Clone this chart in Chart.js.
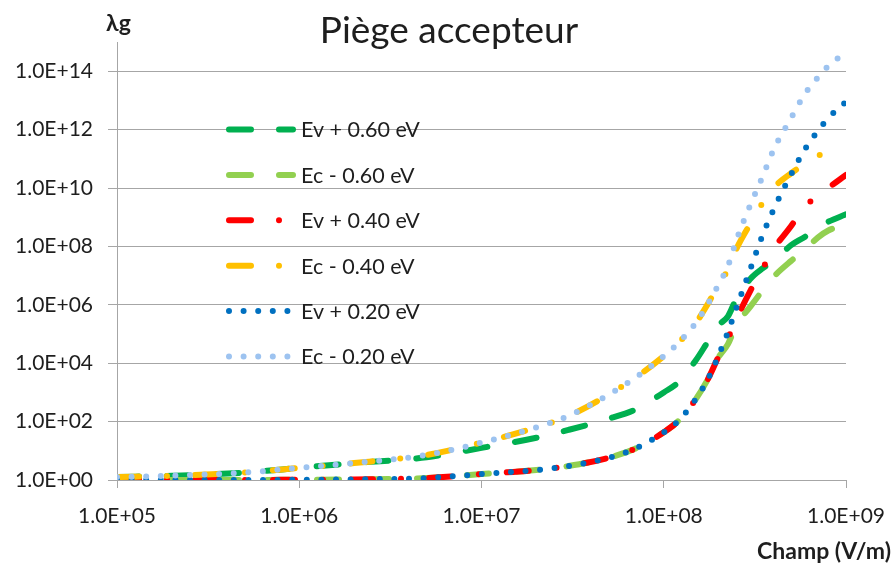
<!DOCTYPE html>
<html>
<head>
<meta charset="utf-8">
<script src="https://cdn.jsdelivr.net/npm/chart.js@4.4.1/dist/chart.umd.min.js"></script>
<style>
  html, body { margin: 0; padding: 0; background: #fff; }
  #graphe { display: block; }
</style>
</head>
<body>
<canvas id="graphe" width="893" height="565"></canvas>
<script>
// champ électrique (V/m)
const champ = [1e5, 2e5, 5e5, 1e6, 2e6, 5e6, 1e7, 2e7, 3e7, 5e7, 7e7, 1e8, 1.2e8, 1.5e8,
    1.75e8, 2e8, 2.25e8, 2.5e8, 3e8, 3.5e8, 4e8, 5e8, 6e8, 7e8, 8e8, 1e9];

// λg
const ev060 = [1.26, 1.4, 1.8, 2.6, 3.8, 6.0, 12.6, 28, 52, 126, 260, 1000, 2200, 1.26e4,
    5.6e4, 2e5, 4e5, 1.6e6, 8e6, 1.8e7, 3.2e7, 1.1e8, 2.2e8, 4.5e8, 7e8, 1.26e9];
const ec060 = [1, 1, 1, 1.02, 1.05, 1.17, 1.6, 2.2, 3.0, 5.8, 12, 43, 105, 590,
    2900, 1.6e4, 4.5e4, 2e5, 9e5, 3.2e6, 9e6, 3.2e7, 8e7, 2e8, 3.5e8, 5.6e8];
const ev040 = [1, 1, 1, 1.02, 1.05, 1.17, 1.6, 2.2, 3.0, 5.8, 12, 43, 105, 590,
    2900, 1.7e4, 7e4, 3.2e5, 3.2e6, 1.8e7, 8e7, 5e8, 2.5e9, 5e9, 1e10, 2.8e10];
const ec040 = [1.26, 1.4, 1.8, 2.6, 3.8, 7.2, 19, 63, 155, 850, 3200, 1.75e4, 4.9e4, 2.4e5,
    1.1e6, 5e6, 1.6e7, 8e7, 6.3e8, 3.2e9, 1e10, 3.2e10, 7e10, 1.26e11, 1.8e11, 2.5e11];
const ev020 = [1, 1, 1, 1.02, 1.05, 1.17, 1.6, 2.2, 3.0, 5.8, 12, 43, 105, 590,
    2900, 1.86e4, 1.17e5, 7.6e5, 1.8e7, 2.6e8, 1.8e9, 2.95e10, 2.3e11, 8.9e11, 2.5e12, 8.9e12];
const ec020 = [1.26, 1.4, 1.8, 2.6, 3.8, 7.2, 19, 63, 155, 850, 3200, 1.75e4, 4.9e4, 2.4e5,
    1.1e6, 5e6, 2.1e7, 1.6e8, 2.8e9, 2.6e10, 2e11, 2.5e12, 1.8e13, 6e13, 1.5e14, 4.5e14];

const ticksX = [1e5, 1e6, 1e7, 1e8, 1e9];
const ticksY = [1e0, 1e2, 1e4, 1e6, 1e8, 1e10, 1e12, 1e14];

const gris = '#a6a6a6';
const texte = '#1e1e1e';

function formatE(v) {
    const exp = Math.round(Math.log10(v));
    const s = exp < 10 ? '0' + exp : '' + exp;
    return '1.0E+' + s;
}

function serie(label, data, couleur, dash, ordre) {
    return {
        label: label,
        data: champ.map((x, i) => ({ x: x, y: data[i] })),
        borderColor: couleur,
        backgroundColor: couleur,
        borderWidth: 6,
        borderDash: dash,
        borderCapStyle: 'round',
        borderJoinStyle: 'round',
        pointRadius: 0,
        cubicInterpolationMode: 'monotone',
        order: ordre
    };
}

const tiret = [22, 28];
const tiretPoint = [22, 28, 0, 28];
const pointille = [0, 14.6];

// textes et légende posés dans la zone de tracé
const textes = {
    id: 'textes',
    afterDraw(chart) {
        const ctx = chart.ctx;
        ctx.save();
        ctx.fillStyle = texte;
        ctx.textBaseline = 'alphabetic';

        ctx.font = '37px Lato';
        ctx.textAlign = 'center';
        ctx.fillText('Piège accepteur', 449, 43);

        ctx.font = 'bold 23px Lato';
        ctx.textAlign = 'left';
        ctx.fillText('λg', 106, 31);
        ctx.textAlign = 'right';
        ctx.fillText('Champ (V/m)', 891, 559);

        ctx.font = '21.5px Lato';
        ctx.textAlign = 'left';
        ctx.textBaseline = 'middle';
        chart.data.datasets.forEach((ds, i) => {
            const y = 129.5 + i * 45.4;
            ctx.save();
            ctx.strokeStyle = ds.borderColor;
            ctx.lineWidth = ds.borderWidth;
            ctx.lineCap = 'round';
            ctx.setLineDash(ds.borderDash);
            ctx.beginPath();
            ctx.moveTo(229, y);
            ctx.lineTo(293, y);
            ctx.stroke();
            ctx.restore();
            ctx.fillText(ds.label, 301, y + 1);
        });
        ctx.restore();
    }
};

new Chart(document.getElementById('graphe'), {
    type: 'line',
    data: {
        datasets: [
            serie('Ev + 0.60 eV', ev060, '#00b050', tiret, 6),
            serie('Ec - 0.60 eV', ec060, '#92d050', tiret, 5),
            serie('Ev + 0.40 eV', ev040, '#ff0000', tiretPoint, 4),
            serie('Ec - 0.40 eV', ec040, '#ffc000', tiretPoint, 3),
            serie('Ev + 0.20 eV', ev020, '#0070c0', pointille, 2),
            serie('Ec - 0.20 eV', ec020, '#9dc3f0', pointille, 1)
        ]
    },
    options: {
        responsive: false,
        animation: false,
        layout: {
            padding: { left: 0, right: 47, top: 42, bottom: 0 }
        },
        plugins: {
            legend: { display: false },
            title: { display: false },
            tooltip: { enabled: false }
        },
        scales: {
            x: {
                type: 'logarithmic',
                min: 1e5,
                max: 1e9,
                afterBuildTicks: (scale) => { scale.ticks = ticksX.map(v => ({ value: v })); },
                afterFit: (scale) => {
                    scale.height = 85;
                    scale.paddingLeft = 0;
                    scale.paddingRight = 0;
                },
                grid: {
                    drawOnChartArea: false,
                    color: gris,
                    tickLength: 8
                },
                border: { color: gris },
                ticks: {
                    autoSkip: false,
                    maxRotation: 0,
                    padding: 16,
                    color: texte,
                    font: { family: 'Lato', size: 21 },
                    callback: (v) => formatE(v)
                }
            },
            y: {
                type: 'logarithmic',
                min: 1,
                max: 1e15,
                afterBuildTicks: (scale) => { scale.ticks = ticksY.map(v => ({ value: v })); },
                afterFit: (scale) => {
                    scale.width = 117;
                    scale.paddingTop = 0;
                    scale.paddingBottom = 0;
                },
                grid: {
                    color: gris,
                    tickLength: 9
                },
                border: { color: gris },
                ticks: {
                    autoSkip: false,
                    padding: 15,
                    color: texte,
                    font: { family: 'Lato', size: 21 },
                    callback: (v) => formatE(v)
                }
            }
        }
    },
    plugins: [textes]
});
</script>
</body>
</html>
